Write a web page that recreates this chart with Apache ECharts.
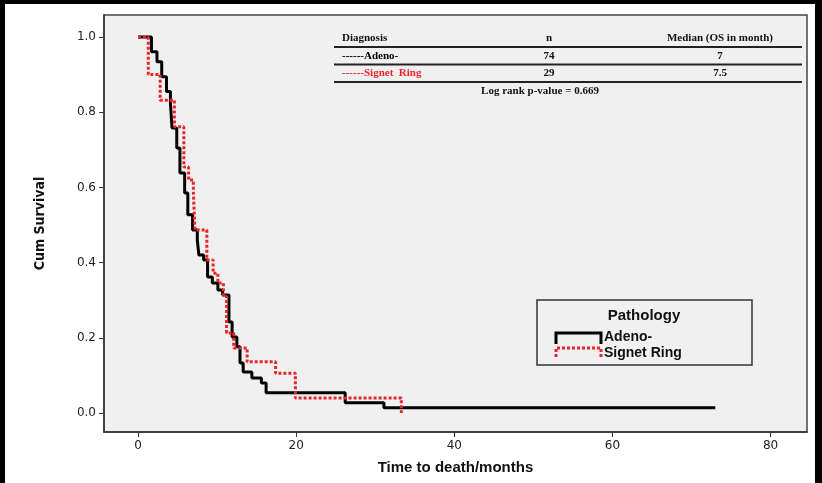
<!DOCTYPE html>
<html>
<head>
<meta charset="utf-8">
<script src="https://cdn.jsdelivr.net/npm/echarts@6/dist/echarts.min.js"></script>
<style>
  html, body { margin: 0; padding: 0; background: #fff; }
  #chart { width: 822px; height: 483px; }
</style>
</head>
<body>
<div id="chart"></div>
<script>
// Kaplan-Meier steps: time (months), survival after the drop
const adenoTime = [0, 1.7, 2.4, 3.0, 3.6, 4.1, 4.3, 4.9, 5.3, 5.9, 6.3, 6.9, 7.5, 7.7, 8.3, 8.8, 9.4, 10.1, 10.7, 11.5, 11.9, 12.5, 12.9, 13.3, 14.4, 15.6, 16.2, 26.2, 31.1, 73]
const adenoSurv = [1.0, 0.961, 0.934, 0.894, 0.855, 0.824, 0.758, 0.705, 0.638, 0.585, 0.527, 0.487, 0.46, 0.42, 0.407, 0.362, 0.346, 0.327, 0.314, 0.242, 0.202, 0.176, 0.133, 0.109, 0.093, 0.08, 0.054, 0.027, 0.014, 0.014]
const signetTime = [0, 1.3, 2.8, 4.6, 5.8, 6.4, 7.0, 7.2, 8.7, 9.5, 10.1, 10.8, 11.2, 12.1, 13.8, 17.4, 19.9, 33.3]
const signetSurv = [1.0, 0.9, 0.832, 0.761, 0.654, 0.62, 0.588, 0.487, 0.407, 0.372, 0.346, 0.31, 0.213, 0.173, 0.136, 0.106, 0.04, 0.0]
const xTicks = [0, 20, 40, 60, 80]
const yTicks = [0, 0.2, 0.4, 0.6, 0.8, 1.0]

const tableRows = [
  ['------Adeno-', '74', '7', '#000'],
  ['------Signet  Ring', '29', '7.5', '#e8262b']
]

const zip = (a, b) => a.map((t, i) => [t, b[i]])
const serif = 'Liberation Serif'

const chart = echarts.init(document.getElementById('chart'))

const tableGraphic = []
const hLine = y => ({ type: 'line', shape: { x1: 334, y1: y, x2: 802, y2: y }, style: { stroke: '#222', lineWidth: 2 }, z: 10 })
const txt = (x, y, text, color, align) => ({
  type: 'text', x, y, z: 10,
  style: { text, fill: color, font: 'bold 11px "' + serif + '"', align: align || 'left', verticalAlign: 'middle' }
})
tableGraphic.push(txt(342, 38, 'Diagnosis', '#111'))
tableGraphic.push(txt(549, 38, 'n', '#111', 'center'))
tableGraphic.push(txt(720, 38, 'Median (OS in month)', '#111', 'center'))
tableGraphic.push(hLine(47))
tableRows.forEach((r, i) => {
  const y = 56 + i * 17.5
  tableGraphic.push(txt(342, y, r[0], r[3]))
  tableGraphic.push(txt(549, y, r[1], '#111', 'center'))
  tableGraphic.push(txt(720, y, r[2], '#111', 'center'))
  tableGraphic.push(hLine(64.5 + i * 17.5))
})
tableGraphic.push(txt(540, 91, 'Log rank p-value = 0.669', '#111', 'center'))

// pathology legend box
const legendGraphic = [
  { type: 'rect', shape: { x: 537, y: 300, width: 215, height: 65 }, style: { fill: '#f0f0f0', stroke: '#333', lineWidth: 1.5 }, z: 10 },
  { type: 'text', x: 644, y: 316, z: 11, style: { text: 'Pathology', font: 'bold 15px "Liberation Sans"', fill: '#111', align: 'center', verticalAlign: 'middle' } },
  { type: 'polyline', shape: { points: [[556, 344], [556, 333], [601, 333], [601, 344]] }, style: { stroke: '#000', lineWidth: 3, fill: null }, z: 11 },
  { type: 'text', x: 604, y: 337, z: 11, style: { text: 'Adeno-', font: 'bold 14px "Liberation Sans"', fill: '#111', verticalAlign: 'middle' } },
  { type: 'polyline', shape: { points: [[556, 357], [556, 348], [601, 348], [601, 357]] }, style: { stroke: '#e8262b', lineWidth: 3, lineDash: [3, 2], fill: null }, z: 11 },
  { type: 'text', x: 604, y: 353, z: 11, style: { text: 'Signet Ring', font: 'bold 14px "Liberation Sans"', fill: '#111', verticalAlign: 'middle' } }
]

// black frame around the figure
const frame = [
  { type: 'rect', shape: { x: 0, y: 0, width: 5, height: 483 }, style: { fill: '#000' }, z: 20 },
  { type: 'rect', shape: { x: 0, y: 0, width: 822, height: 4 }, style: { fill: '#000' }, z: 20 },
  { type: 'rect', shape: { x: 815, y: 0, width: 7, height: 483 }, style: { fill: '#000' }, z: 20 }
]

chart.setOption({
  animation: false,
  backgroundColor: '#fff',
  grid: { left: 104, right: 15, top: 15, bottom: 51, show: true, backgroundColor: '#f0f0f0', borderColor: '#444', borderWidth: 1.5 },
  xAxis: {
    type: 'value', min: -4.3, max: 84.6,
    name: 'Time to death/months', nameLocation: 'middle', nameGap: 28,
    nameTextStyle: { fontFamily: 'Liberation Sans', fontWeight: 'bold', fontSize: 15, color: '#111' },
    axisLine: { onZero: false, lineStyle: { color: '#333', width: 1.5 } },
    axisTick: { show: true, customValues: xTicks, length: 5, lineStyle: { color: '#333' } },
    axisLabel: { customValues: xTicks, color: '#222', fontSize: 12, fontFamily: 'DejaVu Sans', margin: 8 },
    splitLine: { show: false }
  },
  yAxis: {
    type: 'value', min: -0.0505, max: 1.0585,
    name: 'Cum Survival', nameLocation: 'middle', nameGap: 57, nameRotate: 90,
    nameTextStyle: { fontFamily: 'DejaVu Sans Condensed', fontWeight: 'bold', fontSize: 14, color: '#111' },
    axisLine: { show: true, onZero: false, lineStyle: { color: '#333', width: 1.5 } },
    axisTick: { show: true, customValues: yTicks, length: 5, lineStyle: { color: '#333' } },
    axisLabel: { customValues: yTicks, formatter: v => v.toFixed(1), color: '#222', fontSize: 12, fontFamily: 'DejaVu Sans', margin: 8 },
    splitLine: { show: false }
  },
  series: [
    { name: 'Adeno-', type: 'line', step: 'end', data: zip(adenoTime, adenoSurv), symbol: 'none', lineStyle: { color: '#000', width: 3 }, z: 3 },
    { name: 'Signet Ring', type: 'line', step: 'end', data: zip(signetTime, signetSurv), symbol: 'none', lineStyle: { color: '#e8262b', width: 3, type: [3, 2] }, z: 4 }
  ],
  graphic: tableGraphic.concat(legendGraphic, frame)
})
</script>
</body>
</html>
